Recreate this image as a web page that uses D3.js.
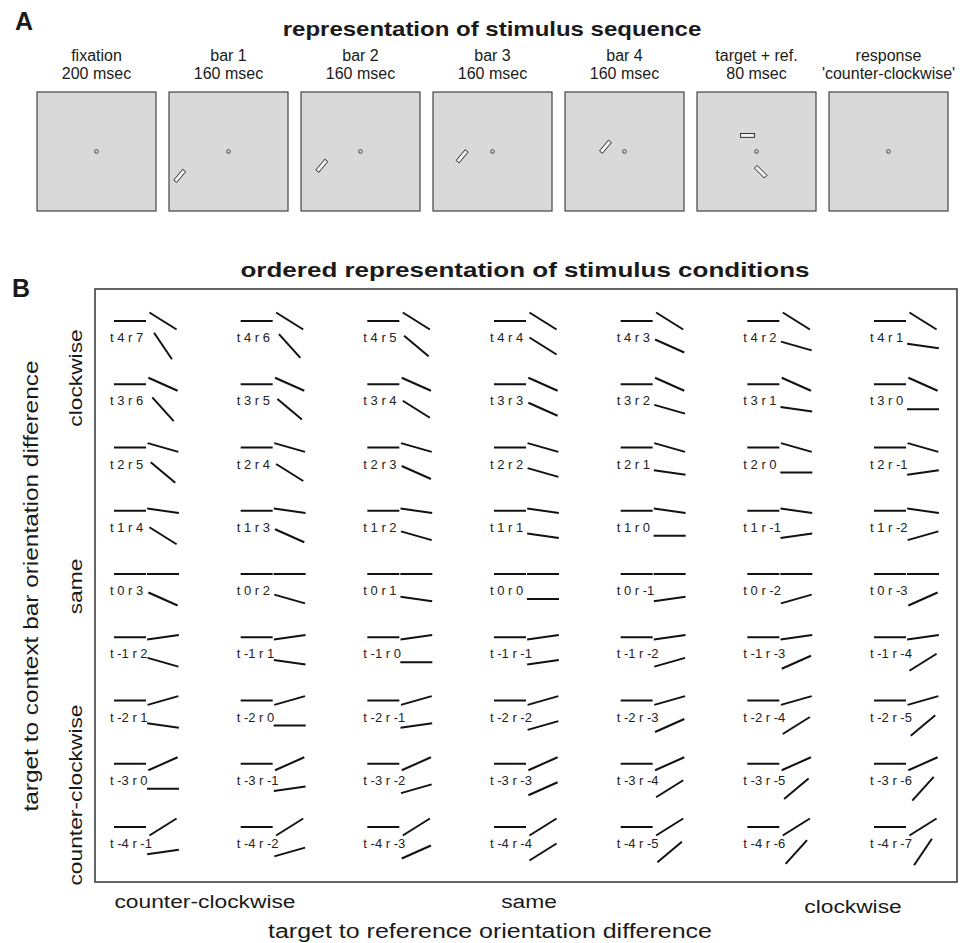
<!DOCTYPE html>
<html>
<head>
<meta charset="utf-8">
<script src="https://cdn.jsdelivr.net/npm/d3@7"></script>
<style>
  body { margin: 0; background: #fff; }
  svg { font-family: "Liberation Sans", Arial, Helvetica, sans-serif; }
</style>
</head>
<body>
<svg id="fig" width="961" height="943"></svg>
<script>
// panel A - frames of one trial
const frameNames = ['fixation', 'bar 1', 'bar 2', 'bar 3', 'bar 4', 'target + ref.', 'response']
const frameTimes = ['200 msec', '160 msec', '160 msec', '160 msec', '160 msec', '80 msec', "'counter-clockwise'"]
// bars in each frame: frame index, x, y (box units, -1..1, y up), orientation in deg
const barFrame = [1, 2, 3, 4, 5, 5]
const barX = [-0.82, -0.65, -0.51, -0.32, -0.15, 0.07]
const barY = [-0.41, -0.24, -0.08, 0.08, 0.27, -0.34]
const barOri = [-50, -50, -50, -50, 0, 45]

// panel B - conditions, in orientation steps
const targetSteps = [4, 3, 2, 1, 0, -1, -2, -3, -4]
const refSteps = [
    [7, 6, 5, 4, 3, 2, 1],
    [6, 5, 4, 3, 2, 1, 0],
    [5, 4, 3, 2, 1, 0, -1],
    [4, 3, 2, 1, 0, -1, -2],
    [3, 2, 1, 0, -1, -2, -3],
    [2, 1, 0, -1, -2, -3, -4],
    [1, 0, -1, -2, -3, -4, -5],
    [0, -1, -2, -3, -4, -5, -6],
    [-1, -2, -3, -4, -5, -6, -7]
]
const degPerStep = 8
const xLabels = ['counter-clockwise', 'same', 'clockwise']
const yLabels = ['clockwise', 'same', 'counter-clockwise']

const svg = d3.select('#fig')
const ink = '#1a1a1a'

// the figure's lettering runs wider than Liberation Sans, so stretch along the text
function label(x, y, txt, size, opts = {}) {
    const rot = opts.rotate || 0
    const sx = opts.stretch || 1
    return svg.append('text')
        .attr('transform', `translate(${x},${y}) rotate(${rot}) scale(${sx},1)`)
        .attr('text-anchor', opts.anchor || 'middle')
        .attr('font-size', size)
        .attr('font-weight', opts.bold ? 'bold' : null)
        .attr('fill', ink)
        .text(txt)
}

// ---------- A ----------
label(15, 30, 'A', 25, { anchor: 'start', bold: true })
label(492, 36, 'representation of stimulus sequence', 20, { bold: true, stretch: 1.2 })

const boxSize = 119
const boxX = d3.scalePoint().domain(d3.range(frameNames.length)).range([37, 829])
const boxTop = 92

const frame = svg.selectAll('.frame')
    .data(frameNames)
    .enter().append('g')
    .attr('class', 'frame')
    .attr('transform', (d, i) => `translate(${boxX(i)},${boxTop})`)

frame.append('rect')
    .attr('width', boxSize).attr('height', boxSize)
    .attr('fill', '#d9d9d9').attr('stroke', '#444').attr('stroke-width', 1.2)

frame.append('text')
    .attr('x', boxSize / 2).attr('y', -31)
    .attr('text-anchor', 'middle').attr('font-size', 16).attr('fill', ink)
    .text(d => d)

frame.append('text')
    .attr('x', boxSize / 2).attr('y', -13)
    .attr('text-anchor', 'middle').attr('font-size', 16).attr('fill', ink)
    .text((d, i) => frameTimes[i])

const bx = d3.scaleLinear().domain([-1, 1]).range([0, boxSize])
const by = d3.scaleLinear().domain([-1, 1]).range([boxSize, 0])

frame.append('circle')
    .attr('cx', bx(0)).attr('cy', by(0)).attr('r', 1.8)
    .attr('fill', 'none').attr('stroke', '#333').attr('stroke-width', 0.9)

barFrame.forEach((f, i) => {
    svg.append('rect')
        .attr('x', -7).attr('y', -1.9).attr('width', 14).attr('height', 3.8)
        .attr('fill', '#f2f2f2').attr('stroke', '#222').attr('stroke-width', 0.9)
        .attr('transform', `translate(${boxX(f) + bx(barX[i])},${boxTop + by(barY[i])}) rotate(${barOri[i]})`)
})

// ---------- B ----------
label(12, 297, 'B', 25, { anchor: 'start', bold: true })
label(525, 277, 'ordered representation of stimulus conditions', 20, { bold: true, stretch: 1.3 })

svg.append('rect')
    .attr('x', 95).attr('y', 289).attr('width', 862).attr('height', 593)
    .attr('fill', 'none').attr('stroke', '#333').attr('stroke-width', 1.5)

const col = d3.scaleLinear().domain([0, 6]).range([114, 874])
const row = d3.scaleLinear().domain([4, -4]).range([321, 827])
const barLen = 32

function seg(sel, cx, cy, deg) {
    const a = deg * Math.PI / 180
    const dx = Math.cos(a) * barLen / 2, dy = Math.sin(a) * barLen / 2
    sel.append('line')
        .attr('x1', cx - dx).attr('y1', cy - dy)
        .attr('x2', cx + dx).attr('y2', cy + dy)
        .attr('stroke', '#111').attr('stroke-width', 2)
}

const cells = []
targetSteps.forEach((t, i) => {
    refSteps[i].forEach((r, j) => cells.push({ t: t, r: r, j: j }))
})

const cell = svg.selectAll('.cell')
    .data(cells)
    .enter().append('g')
    .attr('class', 'cell')
    .attr('transform', d => `translate(${col(d.j)},${row(d.t)})`)

cell.each(function (d) {
    const g = d3.select(this)
    seg(g, barLen / 2, 0, 0)                          // context bar
    seg(g, 49, 0, d.t * degPerStep)                   // target
    seg(g, 49, 25, d.r * degPerStep)                  // reference
})

cell.append('text')
    .attr('x', -4).attr('y', 21)
    .attr('font-size', 13).attr('fill', '#222')
    .text(d => `t ${d.t} r ${d.r}`)

// axis labels
const xl = d3.scalePoint().domain(xLabels).range([205, 853])
xLabels.forEach(d => {
    label(xl(d), d === 'clockwise' ? 913 : 908, d, 19, { stretch: 1.2 })
})
label(490, 938, 'target to reference orientation difference', 20, { stretch: 1.25 })

const yl = d3.scalePoint().domain(yLabels).range([378, 795])
yLabels.forEach(d => {
    label(82, yl(d), d, 19, { rotate: -90, stretch: 1.2 })
})
label(38, 586, 'target to context bar orientation difference', 20, { rotate: -90, stretch: 1.22 })
</script>
</body>
</html>
